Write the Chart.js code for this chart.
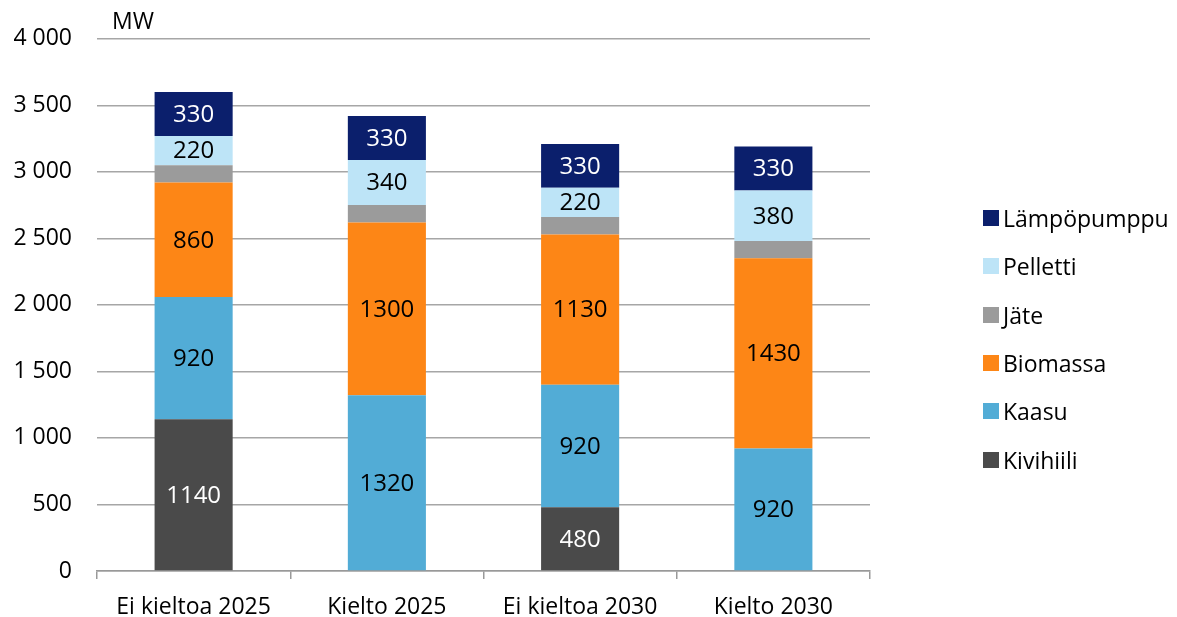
<!DOCTYPE html>
<html>
<head>
<meta charset="utf-8">
<script src="https://cdn.jsdelivr.net/npm/chart.js@4.4.1/dist/chart.umd.min.js"></script>
<style>
    html, body { margin: 0; padding: 0; background: #fff; }
    #wrap { position: relative; width: 1177px; height: 617px; }
    #legend { position: absolute; left: 983px; top: 194px; font-family: "Open Sans", sans-serif; font-size: 23px; color: #000; }
    .legend-item { display: flex; align-items: center; height: 48.3px; }
    .legend-box { width: 16px; height: 16px; margin-right: 4px; }
</style>
</head>
<body>
<div id="wrap">
    <canvas id="chart" width="1177" height="617"></canvas>
    <div id="legend"></div>
</div>
<script>
const categories = ['Ei kieltoa 2025', 'Kielto 2025', 'Ei kieltoa 2030', 'Kielto 2030'];

const kivihiili   = [1140, 0, 480, 0];
const kaasu       = [920, 1320, 920, 920];
const biomassa    = [860, 1300, 1130, 1430];
const jate        = [130, 130, 130, 130];
const pelletti    = [220, 340, 220, 380];
const lampopumppu = [330, 330, 330, 330];

const yTicks = [0, 500, 1000, 1500, 2000, 2500, 3000, 3500, 4000];

const FONT = '"Open Sans", sans-serif';

// series in stacking order (bottom first)
const series = [
    { label: 'Kivihiili', data: kivihiili, color: '#4a4a4a', text: '#ffffff', showLabel: true },
    { label: 'Kaasu', data: kaasu, color: '#52acd6', text: '#000000', showLabel: true },
    { label: 'Biomassa', data: biomassa, color: '#fd8616', text: '#000000', showLabel: true },
    { label: 'Jäte', data: jate, color: '#9b9b9b', text: '#000000', showLabel: false },
    { label: 'Pelletti', data: pelletti, color: '#bde4f7', text: '#000000', showLabel: true },
    { label: 'Lämpöpumppu', data: lampopumppu, color: '#0b1f6c', text: '#ffffff', showLabel: true }
];

function formatThousands(v) {
    return String(v).replace(/\B(?=(\d{3})+(?!\d))/g, ' ');
}

// draws the value in the middle of each segment
const segmentLabels = {
    id: 'segmentLabels',
    afterDatasetsDraw(chart) {
        const ctx = chart.ctx;
        ctx.save();
        ctx.font = '24px ' + FONT;
        ctx.textAlign = 'center';
        ctx.textBaseline = 'middle';
        chart.data.datasets.forEach((ds, i) => {
            const s = series[i];
            if (!s.showLabel) return;
            chart.getDatasetMeta(i).data.forEach((bar, j) => {
                const v = ds.data[j];
                if (!v) return;
                ctx.fillStyle = s.text;
                ctx.fillText(v, bar.x, (bar.y + bar.base) / 2 + 1);
            });
        });
        ctx.restore();
    }
};

// unit text above the y axis
const unitLabel = {
    id: 'unitLabel',
    afterDraw(chart) {
        const ctx = chart.ctx;
        ctx.save();
        ctx.font = '23px ' + FONT;
        ctx.fillStyle = '#000';
        ctx.textAlign = 'left';
        ctx.textBaseline = 'alphabetic';
        ctx.fillText('MW', 112, 29);
        ctx.restore();
    }
};

const ctx = document.getElementById('chart').getContext('2d');
const chart = new Chart(ctx, {
    type: 'bar',
    data: {
        labels: categories,
        datasets: series.map(s => ({
            label: s.label,
            data: s.data,
            backgroundColor: s.color,
            borderWidth: 0,
            categoryPercentage: 1,
            barPercentage: 0.404
        }))
    },
    options: {
        responsive: false,
        animation: false,
        layout: { padding: { top: 38, right: 307, left: 0, bottom: 0 } },
        plugins: {
            legend: { display: false },
            tooltip: { enabled: false }
        },
        scales: {
            x: {
                stacked: true,
                afterFit: (scale) => { scale.height = 46; },
                grid: {
                    offset: true,
                    drawOnChartArea: false,
                    drawTicks: true,
                    tickLength: 8,
                    color: '#999999',
                    lineWidth: 1.5
                },
                border: { display: true, color: '#999999', width: 1.5 },
                ticks: {
                    color: '#000',
                    font: { family: FONT, size: 23 },
                    padding: 15
                }
            },
            y: {
                stacked: true,
                min: 0,
                max: 4000,
                afterFit: (scale) => { scale.width = 97; },
                afterBuildTicks: (scale) => { scale.ticks = yTicks.map(v => ({ value: v })); },
                grid: {
                    color: '#a6a6a6',
                    lineWidth: 1.5,
                    drawTicks: false
                },
                border: { display: false },
                ticks: {
                    color: '#000',
                    font: { family: FONT, size: 23 },
                    padding: 25,
                    callback: (v) => formatThousands(v)
                }
            }
        }
    },
    plugins: [segmentLabels, unitLabel]
});

// legend, top item is the top of the stack
const legendEl = document.getElementById('legend');
series.slice().reverse().forEach(s => {
    const item = document.createElement('div');
    item.className = 'legend-item';
    item.innerHTML = `<span class="legend-box" style="background:${s.color}"></span><span>${s.label}</span>`;
    legendEl.appendChild(item);
});
</script>
</body>
</html>
